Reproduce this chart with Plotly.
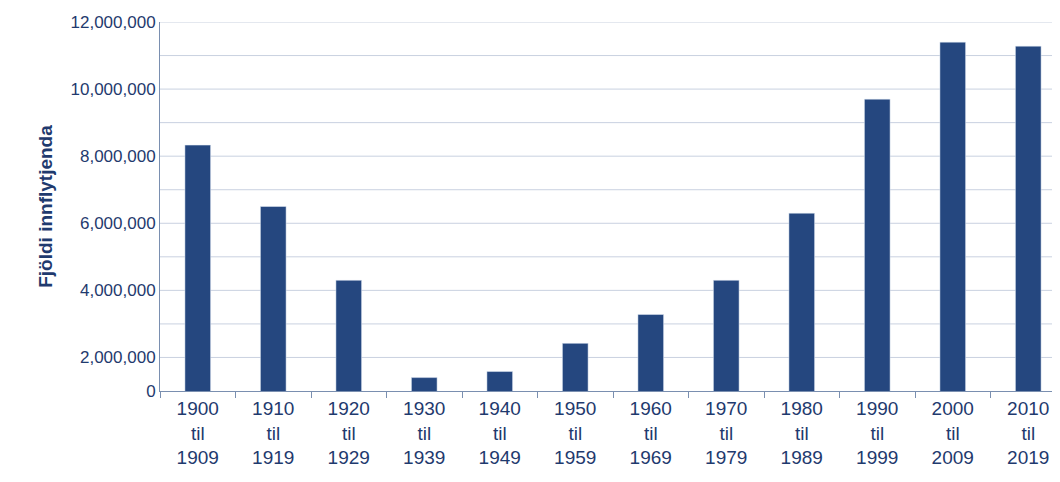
import plotly.graph_objects as go

decades = ["1900<br>til<br>1909", "1910<br>til<br>1919", "1920<br>til<br>1929", "1930<br>til<br>1939",
           "1940<br>til<br>1949", "1950<br>til<br>1959", "1960<br>til<br>1969", "1970<br>til<br>1979",
           "1980<br>til<br>1989", "1990<br>til<br>1999", "2000<br>til<br>2009", "2010<br>til<br>2019"]
immigrants = [8330000, 6500000, 4300000, 1400000, 1580000, 2420000,
              3280000, 4300000, 6300000, 9700000, 11400000, 11280000]
# the axis is drawn from 1M, labelled 0 at the bottom as in the original
tick_vals = [1000000, 2000000, 4000000, 6000000, 8000000, 10000000, 12000000]
tick_text = ["0", "2,000,000", "4,000,000", "6,000,000", "8,000,000", "10,000,000", "12,000,000"]

navy = "#1f3a6e"
fig = go.Figure(go.Bar(x=decades, y=immigrants, marker_color="#25477f", width=0.34))

fig.update_layout(
    width=1060, height=482, margin=dict(l=152, r=2, t=14, b=99),
    plot_bgcolor="white", paper_bgcolor="white", showlegend=False,
    font=dict(family="Liberation Sans, Arial", size=18, color=navy),
)
fig.update_yaxes(range=[1000000, 12000000], tickvals=tick_vals, ticktext=tick_text,
                 showgrid=False, showline=True, linecolor="#7a8fb0", linewidth=1,
                 automargin=False, tickfont=dict(size=17),
                 title=dict(text="<b>Fjöldi innflytjenda</b>", font=dict(size=19), standoff=12))
# light grid every million
for v in range(2000000, 12000001, 1000000):
    fig.add_hline(y=v, line_color="#c9d1e0", line_width=1, layer="below")
fig.update_xaxes(showline=True, linecolor="#7a8fb0", linewidth=1, ticks="outside",
                 tickcolor="#7a8fb0", ticklen=6, tickson="boundaries",
                 automargin=False, tickfont=dict(size=19))

fig.write_html("out.html")
